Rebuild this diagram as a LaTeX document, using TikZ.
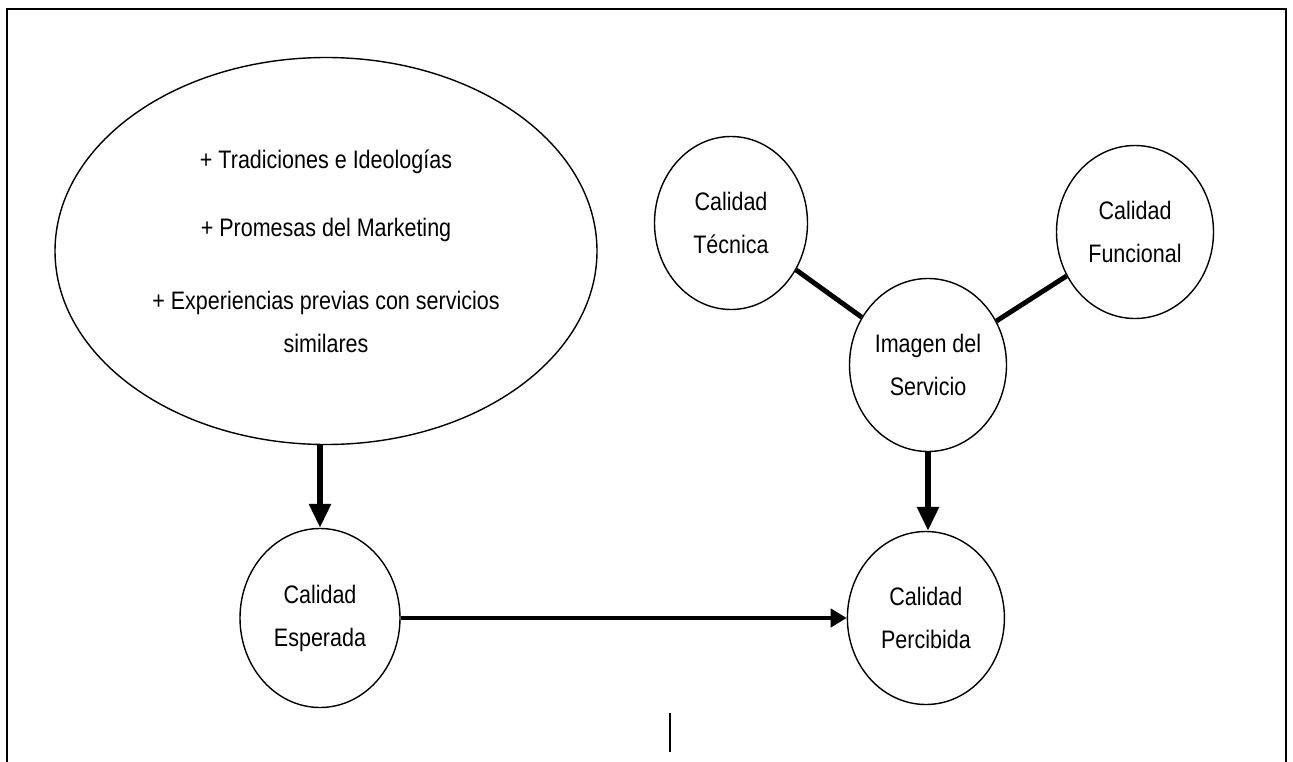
\documentclass[tikz,border=0pt]{standalone}
\usepackage{fontspec}
\setmainfont{Liberation Sans}[FakeStretch=0.85]
\usepackage{tikz}
\usetikzlibrary{arrows.meta,shapes.geometric}
\usetikzlibrary{positioning}
\tikzset{calidad node/.style={ellipse,draw,line width=0.8pt,minimum width=3.14cm,minimum height=3.46cm,inner sep=0pt,align=center},
	flecha/.style={line width=3.2pt,-{Triangle[length=0.48cm,width=0.42cm]}},
}

\begin{document}
\begin{tikzpicture}[font=\fontsize{14.4pt}{24.5pt}\selectfont]
		\useasboundingbox (0,0) rectangle (25.86,-15.24);
		% marco
		\draw[line width=1pt] (0.14,-15.3) -- (0.14,-0.18) -- (25.72,-0.18) -- (25.72,-15.3);
		
		\node[ellipse,draw,line width=0.8pt,minimum width=10.84cm,minimum height=7.74cm,inner sep=0pt,align=center] (ell) at (6.52,-5.02)
		{+ Tradiciones e Ideologías\\[0.5cm]
		 + Promesas del Marketing\\[0.6cm]
		 + Experiencias previas con servicios\\
		 similares};
		
		\node[calidad node,minimum width=3.2cm,minimum height=3.58cm] (esp) at (6.40,-12.36) {Calidad\\Esperada};
		\node[calidad node] (perc) [right = 8.92cm of esp] {Calidad\\Percibida};
		\node[calidad node] (img) at (18.56,-7.30) {Imagen del\\Servicio};
		\node[calidad node,minimum width=3.06cm] (tec) at (14.62,-4.46) {Calidad\\Técnica};
		\node[calidad node] (func) at (22.70,-4.64) {Calidad\\Funcional};
		
		\path[draw,line width=2.8pt]
		(tec) -- (img)
		(func) -- (img);
		
		\draw[flecha] (ell.south -| esp.north) -- (esp.north);
		\draw[flecha] (img.south) -- (img.south |- perc.north);
		\draw[line width=2.8pt,-{Triangle[length=0.32cm,width=0.36cm]}] (esp.east) -- (perc.west);
		%%
		\draw[line width=1pt] (13.4,-14.26) -- (13.4,-15.04);
	\end{tikzpicture}
\end{document}
